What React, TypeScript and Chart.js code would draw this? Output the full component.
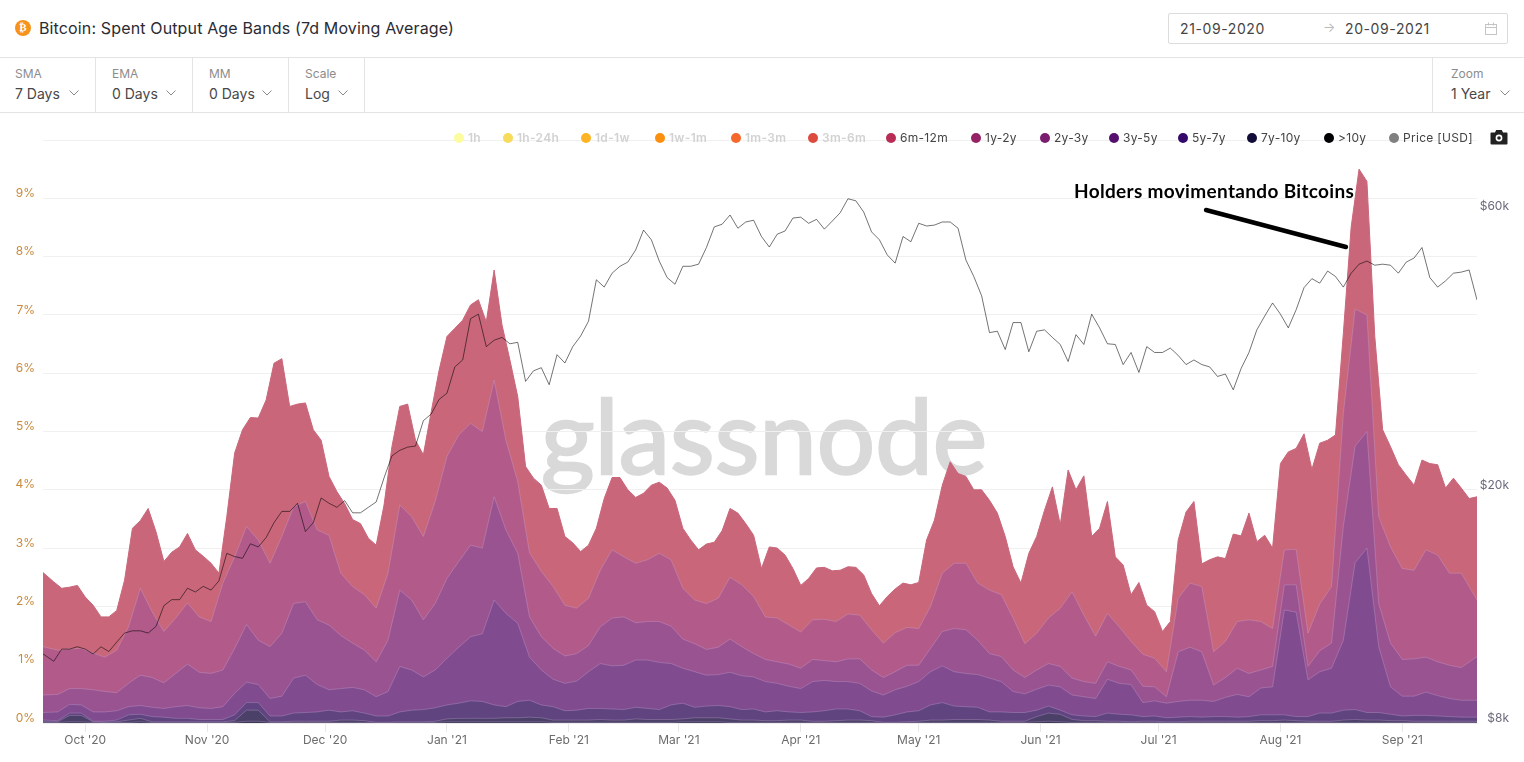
import React, { useEffect, useRef } from "react";
import { Chart, registerables } from "chart.js";

Chart.register(...registerables);

// month ticks: day offset from 21-09-2020
const monthDays = [10, 41, 71, 102, 133, 161, 192, 222, 253, 283, 314, 345];
const monthLabels = ["Oct '20", "Nov '20", "Dec '20", "Jan '21", "Feb '21", "Mar '21", "Apr '21", "May '21", "Jun '21", "Jul '21", "Aug '21", "Sep '21"];
const pctTicks = [0, 1, 2, 3, 4, 5, 6, 7, 8, 9, 10];
const priceTicks = [8000, 20000, 60000];
const priceTickLabels = ["$8k", "$20k", "$60k"];

// Price [USD] in thousands, one reading every second day
const priceK = [10.5,10.2,10.7,10.7,10.8,10.7,10.5,10.8,10.6,11.0,11.4,11.5,11.5,11.4,11.7,12.7,13.0,13.0,13.6,13.4,13.7,13.5,14.0,15.6,15.4,15.3,16.2,16.0,16.6,17.6,18.4,18.4,19.0,17.0,17.6,19.4,19.0,18.7,19.2,18.3,18.3,18.7,19.1,21.0,22.9,23.4,23.7,23.8,26.3,27.0,28.6,29.3,32.5,33.4,39.3,40.0,35.2,36.1,36.5,35.6,35.8,30.7,32.0,32.4,30.3,34.1,33.0,35.2,36.7,38.9,45.8,44.5,47.0,48.3,49.1,51.5,55.7,53.6,49.3,46.2,45.0,48.3,48.3,48.7,52.0,56.4,57.0,59.1,56.1,57.5,57.9,54.3,52.1,54.8,55.5,58.4,58.6,57.2,58.1,55.9,57.7,59.6,63.0,62.5,59.8,55.3,53.6,50.5,48.9,54.3,53.2,57.2,56.6,56.8,57.5,57.5,56.1,49.5,46.4,43.0,37.2,37.4,34.8,38.7,38.7,34.5,37.4,37.6,36.5,35.5,33.2,36.9,35.5,40.0,37.9,35.6,35.5,32.8,34.4,31.8,35.2,34.4,34.4,35.0,34.0,32.8,33.4,32.8,32.5,31.3,31.6,29.7,32.3,34.4,37.6,39.7,41.8,40.0,37.9,40.7,44.4,46.0,45.2,47.4,46.4,44.5,47.0,48.7,49.3,48.5,48.7,48.5,47.0,49.1,49.9,52.0,46.2,44.5,45.6,47.0,47.2,47.6,42.3];

// Upper edge of each visible band in % (stack)
// 6m-12m: one reading every second day
const edge6m12m = [2.58,2.42,2.31,2.33,2.36,2.16,2.02,1.82,1.82,1.93,2.45,3.34,3.47,3.68,3.28,2.77,2.93,3.02,3.25,2.97,2.86,2.74,2.57,3.54,4.63,5.03,5.24,5.23,5.54,6.17,6.25,5.43,5.47,5.49,5.03,4.85,4.23,3.97,3.76,3.49,3.42,3.17,3.05,3.74,4.74,5.43,5.47,4.85,4.60,5.34,6.05,6.63,6.77,6.91,7.17,7.26,6.88,7.77,6.83,6.23,5.60,4.40,4.20,4.08,3.68,3.68,3.20,3.09,2.94,3.05,3.34,3.85,4.21,4.21,4.00,3.87,3.94,4.08,4.13,4.03,3.82,3.34,3.14,2.97,3.07,3.10,3.30,3.68,3.60,3.42,3.22,2.65,3.02,3.00,2.88,2.65,2.36,2.48,2.66,2.67,2.61,2.62,2.68,2.67,2.54,2.22,2.01,2.17,2.30,2.40,2.37,2.41,3.14,3.48,4.08,4.48,4.28,4.23,4.00,4.00,3.82,3.60,3.20,2.68,2.40,2.91,3.20,3.65,4.05,3.40,4.34,4.00,4.24,3.20,3.34,3.80,2.85,2.71,2.20,2.41,2.02,1.91,1.57,1.74,3.14,3.62,3.80,2.73,2.80,2.85,2.82,3.24,3.21,3.60,3.11,3.22,3.00,4.45,4.65,4.71,4.96,4.35,4.80,4.85,4.94,6.68,8.51,9.50,9.29,6.63,5.03,4.74,4.43,4.25,4.08,4.51,4.45,4.43,4.03,4.20,4.03,3.85,3.88];
// the others: one reading every third day
const edge1y2y = [1.31,1.25,1.27,1.28,1.20,1.13,1.25,1.65,2.31,1.91,1.57,1.80,2.06,1.82,1.74,2.40,2.85,3.37,3.14,2.74,3.20,3.71,3.80,3.31,3.22,2.57,2.34,2.20,1.97,2.57,3.74,3.54,3.20,3.80,4.57,4.94,5.14,5.00,5.88,4.85,4.14,2.92,2.60,2.34,2.02,1.97,2.14,2.62,2.97,2.85,2.74,2.80,2.91,2.80,2.31,2.11,2.05,2.14,2.50,2.37,2.17,1.82,1.80,1.68,1.56,1.77,1.78,1.74,1.87,1.85,1.60,1.37,1.55,1.64,1.62,2.00,2.57,2.74,2.74,2.40,2.28,2.20,1.80,1.36,1.54,1.80,1.97,2.25,1.85,1.49,1.88,1.65,1.40,1.18,1.11,0.88,2.14,2.40,2.34,1.22,1.40,1.74,1.77,1.74,1.62,2.97,2.98,1.54,2.04,2.34,5.31,7.10,7.00,3.54,3.02,2.65,2.62,2.97,2.88,2.57,2.57,2.11];
const edge2y3y = [0.48,0.49,0.59,0.59,0.57,0.54,0.52,0.68,0.82,0.78,0.69,0.85,1.01,0.87,0.85,0.91,1.28,1.69,1.42,1.31,1.54,2.05,2.08,1.77,1.68,1.50,1.37,1.25,1.05,1.42,2.28,2.11,1.77,2.05,2.48,2.77,3.05,3.00,3.88,3.31,2.91,1.82,1.48,1.28,1.15,1.19,1.33,1.65,1.80,1.82,1.72,1.74,1.74,1.66,1.44,1.36,1.26,1.30,1.44,1.31,1.19,1.09,1.05,1.01,0.94,1.09,1.07,1.05,1.10,1.10,0.91,0.78,0.88,0.99,0.99,1.28,1.57,1.62,1.60,1.42,1.19,1.14,0.91,0.78,0.91,1.02,0.97,0.77,0.71,0.68,1.05,0.97,0.91,0.63,0.62,0.45,1.22,1.30,1.22,0.65,0.78,0.94,0.85,0.91,0.97,2.37,2.37,0.97,1.24,1.37,3.37,4.75,5.00,2.05,1.37,1.09,1.10,1.13,1.05,0.99,0.95,1.14];
const edge3y5y = [0.18,0.19,0.32,0.31,0.19,0.19,0.21,0.28,0.30,0.27,0.25,0.28,0.30,0.26,0.25,0.28,0.51,0.70,0.66,0.42,0.46,0.77,0.82,0.66,0.57,0.59,0.61,0.57,0.45,0.54,0.97,0.91,0.79,0.91,1.11,1.30,1.48,1.53,2.11,1.88,1.71,1.13,0.91,0.75,0.68,0.72,0.88,1.02,0.98,0.99,1.08,1.08,1.04,1.02,0.94,0.88,0.82,0.83,0.87,0.81,0.79,0.71,0.68,0.63,0.59,0.71,0.73,0.71,0.71,0.68,0.55,0.48,0.57,0.63,0.71,0.88,0.98,0.88,0.85,0.83,0.77,0.71,0.54,0.50,0.58,0.65,0.62,0.48,0.45,0.42,0.75,0.68,0.66,0.35,0.38,0.34,0.37,0.39,0.39,0.37,0.44,0.49,0.45,0.60,0.62,1.94,1.90,0.74,0.88,0.94,1.42,2.75,3.00,1.31,0.62,0.46,0.46,0.53,0.47,0.42,0.39,0.39];
const edge5y7y = [0.05,0.04,0.17,0.17,0.03,0.03,0.05,0.14,0.15,0.11,0.10,0.08,0.08,0.06,0.06,0.06,0.14,0.35,0.35,0.12,0.12,0.17,0.18,0.19,0.22,0.19,0.21,0.17,0.12,0.12,0.19,0.22,0.23,0.26,0.31,0.34,0.38,0.37,0.31,0.28,0.37,0.39,0.31,0.28,0.21,0.22,0.25,0.25,0.24,0.23,0.27,0.25,0.23,0.31,0.34,0.27,0.29,0.30,0.28,0.23,0.24,0.19,0.21,0.19,0.18,0.19,0.21,0.24,0.24,0.21,0.11,0.10,0.14,0.19,0.21,0.31,0.35,0.29,0.28,0.27,0.19,0.19,0.18,0.18,0.22,0.29,0.22,0.14,0.12,0.11,0.17,0.15,0.14,0.11,0.12,0.09,0.10,0.11,0.10,0.11,0.11,0.10,0.11,0.14,0.14,0.14,0.11,0.11,0.17,0.17,0.22,0.23,0.18,0.18,0.15,0.12,0.13,0.13,0.12,0.11,0.10,0.10];
const edge7y10y = [0.02,0.02,0.13,0.13,0.02,0.01,0.02,0.05,0.08,0.02,0.02,0.02,0.02,0.02,0.02,0.02,0.04,0.22,0.22,0.02,0.02,0.03,0.03,0.03,0.03,0.05,0.05,0.04,0.01,0.01,0.02,0.02,0.02,0.03,0.07,0.08,0.08,0.08,0.08,0.09,0.09,0.10,0.09,0.05,0.05,0.05,0.05,0.06,0.05,0.05,0.07,0.06,0.06,0.06,0.07,0.09,0.09,0.09,0.07,0.05,0.05,0.04,0.04,0.05,0.05,0.03,0.03,0.04,0.05,0.05,0.04,0.01,0.01,0.02,0.03,0.05,0.05,0.06,0.06,0.06,0.05,0.03,0.03,0.03,0.11,0.17,0.15,0.06,0.04,0.04,0.03,0.03,0.02,0.03,0.03,0.02,0.02,0.03,0.03,0.03,0.03,0.03,0.03,0.04,0.04,0.05,0.04,0.03,0.03,0.03,0.05,0.06,0.05,0.05,0.04,0.04,0.03,0.03,0.03,0.03,0.03,0.03];
const edgeOver10y = [0.01,0.01,0.02,0.02,0.01,0.01,0.01,0.01,0.02,0.01,0.01,0.01,0.01,0.01,0.01,0.01,0.01,0.03,0.03,0.01,0.01,0.01,0.01,0.01,0.01,0.01,0.01,0.01,0.01,0.01,0.01,0.01,0.01,0.01,0.02,0.02,0.02,0.02,0.02,0.02,0.02,0.02,0.02,0.01,0.01,0.01,0.01,0.01,0.01,0.01,0.01,0.01,0.01,0.01,0.02,0.02,0.02,0.02,0.01,0.01,0.01,0.01,0.01,0.01,0.01,0.01,0.01,0.01,0.01,0.01,0.01,0.01,0.01,0.01,0.01,0.01,0.01,0.01,0.01,0.01,0.01,0.01,0.01,0.01,0.02,0.03,0.02,0.01,0.01,0.01,0.01,0.01,0.01,0.01,0.01,0.01,0.01,0.01,0.01,0.01,0.01,0.01,0.01,0.01,0.01,0.01,0.01,0.01,0.01,0.01,0.01,0.01,0.01,0.01,0.01,0.01,0.01,0.01,0.01,0.01,0.01,0.01];

const legendNames = ["1h", "1h-24h", "1d-1w", "1w-1m", "1m-3m", "3m-6m", "6m-12m", "1y-2y", "2y-3y", "3y-5y", "5y-7y", "7y-10y", ">10y", "Price [USD]"];
const legendColors = ["#fcfc9e", "#f6dc5a", "#fcb424", "#fb8f0e", "#f5672a", "#dc4b3e", "#b82c55", "#952264", "#7a1d6d", "#55106e", "#34096a", "#120d38", "#000004", "#808080"];
const legendHidden = [true, true, true, true, true, true, false, false, false, false, false, false, false, false];
const legendDotX = [459, 508, 586, 660, 736, 813, 891, 976, 1045, 1114, 1183, 1252, 1329, 1394];

const bandNames = ["6m-12m", "1y-2y", "2y-3y", "3y-5y", "5y-7y", "7y-10y", ">10y"];
const bandEdges = [edge6m12m, edge1y2y, edge2y3y, edge3y5y, edge5y7y, edge7y10y, edgeOver10y];
const bandFill = ["#c9667a", "#b25b8b", "#9a5391", "#804b8f", "#5f4480", "#4b4068", "#3d3858"];

const controls = [
  { label: "SMA", value: "7 Days", x: 15, chev: 74 },
  { label: "EMA", value: "0 Days", x: 112, chev: 171 },
  { label: "MM", value: "0 Days", x: 209, chev: 267 },
  { label: "Scale", value: "Log", x: 305, chev: 343 },
  { label: "Zoom", value: "1 Year", x: 1451, chev: 1505 },
];
const dividers = [95, 192, 288, 364, 1432];

const DAY_MIN = -0.75;
const DAY_MAX = 364;
// readings are evenly spaced; the first and last sit on the plot's edges
const toPoints = (vals: number[], step: number, scale = 1) =>
  vals.map((v, i) => ({ x: i === 0 ? DAY_MIN : i === vals.length - 1 ? DAY_MAX : i * step, y: v * scale }));

const text = (extra: React.CSSProperties): React.CSSProperties => ({ position: "absolute", whiteSpace: "nowrap", lineHeight: 1, ...extra });

function Chevron({ x, y }: { x: number; y: number }) {
  return (
    <svg style={{ position: "absolute", left: x - 5, top: y - 3 }} width="10" height="6">
      <path d="M0.5 0.5 L5 5 L9.5 0.5" fill="none" stroke="#8a8a8a" strokeWidth="1" />
    </svg>
  );
}

export default function App() {
  const ref = useRef<HTMLCanvasElement>(null);
  useEffect(() => {
    if (!ref.current) return;
    const chart = new Chart(ref.current, {
      type: "line",
      data: {
        datasets: [
          {
            label: "Price [USD]",
            data: toPoints(priceK, 2, 1000),
            yAxisID: "price",
            borderColor: "rgba(0,0,0,0.55)",
            borderWidth: 1,
            pointRadius: 0,
            fill: false,
            tension: 0,
            order: 0,
          },
          ...bandNames
            .map((name, i) => ({
              label: name,
              data: toPoints(bandEdges[i], i === 0 ? 2 : 3),
              yAxisID: "y",
              borderColor: i === 0 ? bandFill[0] : "rgba(205,175,215,0.32)",
              backgroundColor: bandFill[i],
              borderWidth: 1,
              pointRadius: 0,
              fill: "origin",
              tension: 0,
              order: 7 - i,
            }))
            .reverse(),
        ],
      },
      options: {
        responsive: false,
        animation: false,
        events: [],
        layout: { padding: { top: 140, left: 0, right: 15, bottom: 0 } },
        plugins: { legend: { display: false }, tooltip: { enabled: false }, title: { display: false } },
        scales: {
          x: {
            type: "linear",
            min: DAY_MIN,
            max: DAY_MAX,
            afterBuildTicks: (s: any) => {
              s.ticks = monthDays.map((value) => ({ value }));
            },
            afterFit: (s: any) => {
              s.height = 39;
            },
            grid: { drawOnChartArea: false, color: "#e8e8e8", tickLength: 9 },
            border: { color: "#ececec" },
            ticks: {
              autoSkip: false,
              maxRotation: 0,
              padding: 1,
              color: "#6b6b6b",
              font: { family: "Inter", size: 12 },
              callback: (v: any) => monthLabels[monthDays.indexOf(Number(v))] ?? "",
            },
          },
          y: {
            type: "linear",
            position: "left",
            min: 0,
            max: 10,
            afterBuildTicks: (s: any) => {
              s.ticks = pctTicks.map((value) => ({ value }));
            },
            afterFit: (s: any) => {
              s.width = 43;
            },
            grid: { color: "#f0f0f0", drawTicks: false },
            border: { display: false },
            ticks: {
              padding: 8,
              labelOffset: -5,
              color: "#c98a3c",
              font: { family: "Inter", size: 12 },
              callback: (v: any) => (Number(v) >= 10 ? "" : `${v}%`),
            },
          },
          price: {
            type: "logarithmic",
            position: "right",
            min: 8000,
            max: 79400,
            afterBuildTicks: (s: any) => {
              s.ticks = priceTicks.map((value) => ({ value }));
            },
            afterFit: (s: any) => {
              s.width = 32;
            },
            grid: { drawOnChartArea: false, drawTicks: false },
            border: { display: false },
            ticks: {
              padding: 2,
              labelOffset: -5,
              crossAlign: "far",
              color: "#6a6a7c",
              font: { family: "Inter", size: 12 },
              callback: (v: any) => priceTickLabels[priceTicks.indexOf(Number(v))] ?? "",
            },
          },
        },
      } as any,
    } as any);
    return () => chart.destroy();
  }, []);

  return (
    <div style={{ position: "absolute", left: 0, top: 0, width: 1524, height: 762, background: "#fff", overflow: "hidden", fontFamily: "Inter, sans-serif" }}>
      {/* header */}
      <div style={{ position: "absolute", left: 15, top: 20, width: 16, height: 16, borderRadius: 8, background: "#f7931a", color: "#fff", fontSize: 11, fontWeight: 700, textAlign: "center", lineHeight: "16px", fontFamily: "DejaVu Sans" }}>₿</div>
      <div style={text({ left: 39, top: 20, fontSize: 16, letterSpacing: 0.14, color: "#2b2b33" })}>Bitcoin: Spent Output Age Bands (7d Moving Average)</div>
      <div style={{ position: "absolute", left: 1168, top: 13, width: 340, height: 31, border: "1px solid #dcdcdc", borderRadius: 2, boxSizing: "border-box" }} />
      <div style={text({ left: 1180, top: 22, fontSize: 14, color: "#444", letterSpacing: 0.6 })}>21-09-2020</div>
      <div style={text({ left: 1323, top: 21, fontSize: 13, color: "#bbb" })}>→</div>
      <div style={text({ left: 1345, top: 22, fontSize: 14, color: "#444", letterSpacing: 0.6 })}>20-09-2021</div>
      <svg style={{ position: "absolute", left: 1484, top: 22 }} width="14" height="14">
        <rect x="1.5" y="2.5" width="11" height="10" fill="none" stroke="#c4c4c4" />
        <path d="M1.5 5.5H12.5M4.5 0.5V3.5M9.5 0.5V3.5" stroke="#c4c4c4" fill="none" />
      </svg>
      {/* control bar */}
      <div style={{ position: "absolute", left: 0, top: 57, width: 1524, height: 1, background: "#e4e4e4" }} />
      <div style={{ position: "absolute", left: 0, top: 112, width: 1524, height: 1, background: "#e4e4e4" }} />
      {dividers.map((x) => (
        <div key={x} style={{ position: "absolute", left: x, top: 57, width: 1, height: 55, background: "#e4e4e4" }} />
      ))}
      {controls.map((c) => (
        <React.Fragment key={c.label}>
          <div style={text({ left: c.x, top: 68, fontSize: 12, color: "#8c8c8c" })}>{c.label}</div>
          <div style={text({ left: c.x, top: 87, fontSize: 14, color: "#484848" })}>{c.value}</div>
          <Chevron x={c.chev} y={93} />
        </React.Fragment>
      ))}
      {/* watermark sits behind the chart */}
      <div style={{ ...text({ left: 541, top: 383, fontSize: 103, color: "#d9d9d9", fontFamily: "Lato" }), WebkitTextStroke: "2.4px #d9d9d9" } as any}>glassnode</div>
      <canvas ref={ref} width={1524} height={762} style={{ position: "absolute", left: 0, top: 0, width: 1524, height: 762 }} />
      {/* legend */}
      {legendNames.map((name, i) => (
        <React.Fragment key={name}>
          <div style={{ position: "absolute", left: legendDotX[i] - 5, top: 133, width: 10, height: 10, borderRadius: 5, background: legendColors[i] }} />
          <div style={text({ left: legendDotX[i] + 9, top: 132, fontSize: 12, letterSpacing: 0.3, color: legendHidden[i] ? "#d2d2d2" : "#444", fontWeight: legendHidden[i] ? 600 : 400 })}>{name}</div>
        </React.Fragment>
      ))}
      <svg style={{ position: "absolute", left: 1490, top: 129 }} width="18" height="16">
        <path d="M1.5 3.5H5L6.2 1H11.8L13 3.5H16.5A1 1 0 0 1 17.5 4.5V14.5A1 1 0 0 1 16.5 15.5H1.5A1 1 0 0 1 0.5 14.5V4.5A1 1 0 0 1 1.5 3.5Z" fill="#222" />
        <circle cx="9" cy="9" r="2.6" fill="none" stroke="#fff" strokeWidth="1.6" />
      </svg>
      {/* annotation */}
      <div style={text({ left: 1074, top: 181, fontSize: 19, letterSpacing: 0.33, fontWeight: 700, color: "#000", fontFamily: "Lato" })}>Holders movimentando Bitcoins</div>
      <svg style={{ position: "absolute", left: 1200, top: 204 }} width="152" height="50">
        <line x1="6" y1="6" x2="146" y2="43" stroke="#000" strokeWidth="4.4" strokeLinecap="round" />
      </svg>
    </div>
  );
}
